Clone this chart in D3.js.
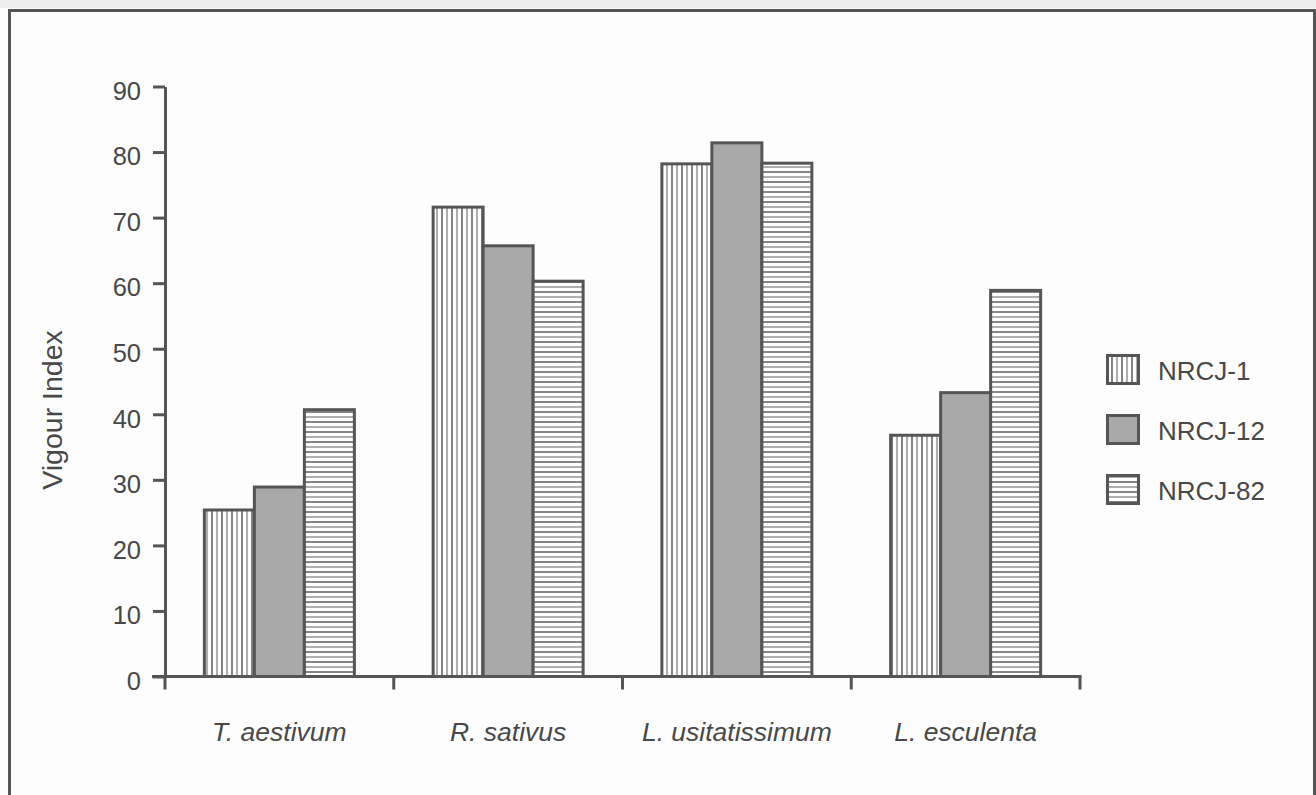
<!DOCTYPE html>
<html><head><meta charset="utf-8">
<script src="https://cdn.jsdelivr.net/npm/d3@7"></script>
<style>
html,body{margin:0;padding:0;background:#fdfdfd;}
svg{display:block;font-family:"Liberation Sans",Arial,Helvetica,sans-serif;}
</style></head>
<body>
<svg id="chart" width="1316" height="795"></svg>
<script>
const categories = ["T. aestivum", "R. sativus", "L. usitatissimum", "L. esculenta"];
const seriesNames = ["NRCJ-1", "NRCJ-12", "NRCJ-82"];
const nrcj1 = [25.4, 71.6, 78.2, 36.8];
const nrcj12 = [28.9, 65.7, 81.4, 43.3];
const nrcj82 = [40.7, 60.3, 78.3, 58.9];
const yTicks = [0, 10, 20, 30, 40, 50, 60, 70, 80, 90];
const yLabel = "Vigour Index";

const seriesValues = [nrcj1, nrcj12, nrcj82];
const stroke = "#555";
const textCol = "#484848";

const svg = d3.select("#chart");
svg.append("rect").attr("x",0).attr("y",0).attr("width",1316).attr("height",8).attr("fill","#ededed");

// frame
svg.append("path").attr("d","M9.5,800 V10.5 H1314.5 V800")
  .attr("fill","none").attr("stroke",stroke).attr("stroke-width",3);

// patterns
const defs = svg.append("defs");
const pv = defs.append("pattern").attr("id","pv").attr("patternUnits","userSpaceOnUse")
  .attr("width",10).attr("height",10);
pv.append("rect").attr("width",10).attr("height",10).attr("fill","#fdfdfd");
pv.append("line").attr("x1",2).attr("x2",2).attr("y1",0).attr("y2",10).attr("stroke","#666").attr("stroke-width",1.6);
pv.append("line").attr("x1",7).attr("x2",7).attr("y1",0).attr("y2",10).attr("stroke","#9a9a9a").attr("stroke-width",1.6);
const ph = defs.append("pattern").attr("id","ph").attr("patternUnits","userSpaceOnUse")
  .attr("width",10).attr("height",10);
ph.append("rect").attr("width",10).attr("height",10).attr("fill","#fdfdfd");
ph.append("line").attr("y1",2).attr("y2",2).attr("x1",0).attr("x2",10).attr("stroke","#666").attr("stroke-width",1.6);
ph.append("line").attr("y1",7).attr("y2",7).attr("x1",0).attr("x2",10).attr("stroke","#9a9a9a").attr("stroke-width",1.6);
const fills = ["url(#pv)", "#a9a9a9", "url(#ph)"];

const x = d3.scaleBand().domain(categories).range([165, 1080]).paddingInner(0).paddingOuter(0);
const x1 = d3.scaleBand().domain(seriesNames).range([0, x.bandwidth()]).paddingInner(0).paddingOuter(0.7875);
const y = d3.scaleLinear().domain([0, 90]).range([676.5, 86.5]);

// bars
categories.forEach((c, ci) => {
  seriesNames.forEach((s, si) => {
    const v = seriesValues[si][ci];
    svg.append("rect")
      .attr("x", x(c) + x1(s))
      .attr("y", y(v))
      .attr("width", x1.bandwidth())
      .attr("height", y(0) - y(v))
      .attr("fill", fills[si])
      .attr("stroke", stroke).attr("stroke-width", 3);
  });
});

// y axis
const yAxis = svg.append("g").attr("transform","translate(165,0)")
  .call(d3.axisLeft(y).tickValues(yTicks).tickSize(12).tickPadding(12).tickSizeOuter(0));
yAxis.select(".domain").attr("stroke",stroke).attr("stroke-width",3);
yAxis.selectAll(".tick line").attr("stroke",stroke).attr("stroke-width",3);
yAxis.selectAll(".tick text").attr("fill",textCol).attr("font-size",25.5).attr("dy","0.5em")
  .style("font-family","'Liberation Sans',Arial,sans-serif");

// x axis line and boundary ticks
const x0 = y(0);
svg.append("line").attr("x1",152).attr("x2",x.range()[1]+1.5).attr("y1",x0).attr("y2",x0)
  .attr("stroke",stroke).attr("stroke-width",3);
const bounds = categories.map(c => x(c)).concat([x.range()[1]]);
svg.selectAll(".xt").data(bounds).enter().append("line")
  .attr("x1",d=>d).attr("x2",d=>d).attr("y1",x0).attr("y2",x0+13)
  .attr("stroke",stroke).attr("stroke-width",3);
svg.selectAll(".xl").data(categories).enter().append("text")
  .attr("x",d=>x(d)+x.bandwidth()/2).attr("y",741)
  .attr("text-anchor","middle").attr("font-style","italic").attr("font-size",26.5)
  .attr("fill",textCol).text(d=>d);

// y label
svg.append("text").attr("transform","translate(62,410) rotate(-90)")
  .attr("text-anchor","middle").attr("font-size",28.5).attr("fill",textCol).text(yLabel);

// legend
const lg = svg.append("g");
seriesNames.forEach((s, i) => {
  const ty = 354 + i*60;
  lg.append("rect").attr("x",1107.5).attr("y",ty+1.5).attr("width",31).attr("height",28)
    .attr("fill",fills[i]).attr("stroke",stroke).attr("stroke-width",3);
  lg.append("text").attr("x",1158).attr("y",ty+26).attr("font-size",26).attr("fill",textCol).text(s);
});
</script>
</body></html>
